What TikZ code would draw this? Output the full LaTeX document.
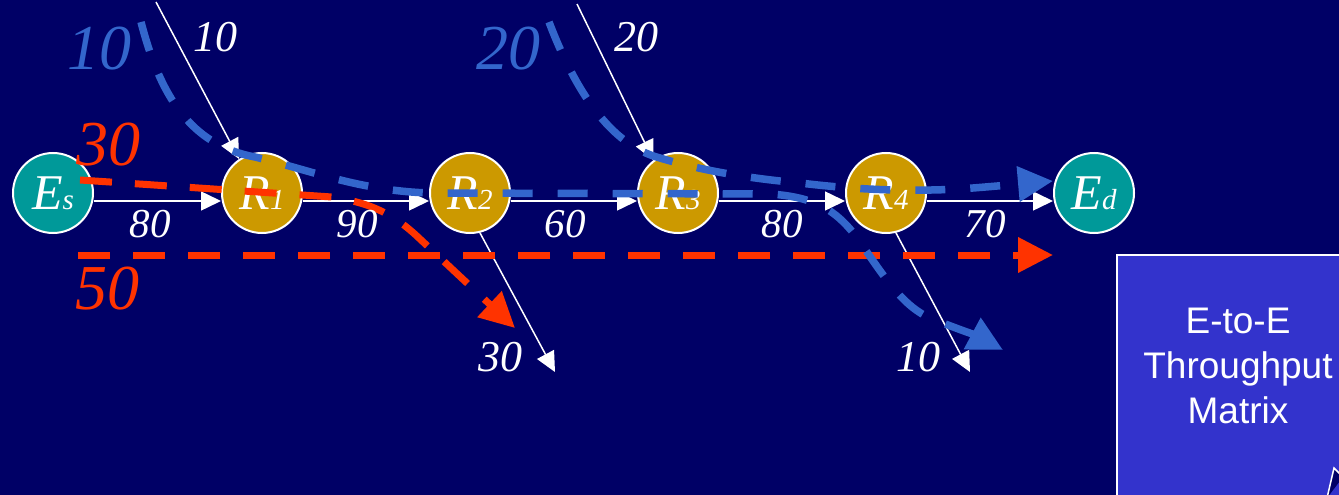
\documentclass[tikz,border=0pt]{standalone}
\usepackage{fontspec}
\setmainfont{Liberation Serif}
\newfontfamily\arialf{Liberation Sans}
\usetikzlibrary{arrows.meta}
\definecolor{bg}{HTML}{000066}
\definecolor{tealnode}{HTML}{009999}
\definecolor{goldnode}{HTML}{CC9900}
\definecolor{flowblue}{HTML}{3366CC}
\definecolor{flowred}{HTML}{FF3300}
\definecolor{boxblue}{HTML}{3333CC}
\tikzset{
  endnode/.style={circle, draw=white, line width=2pt, fill=tealnode, minimum size=80pt, inner sep=0pt, text=white, font=\fontsize{50}{50}\selectfont\itshape},
  routernode/.style={endnode, fill=goldnode},
  link/.style={draw=white, line width=1.5pt, -{Triangle[length=20pt,width=19pt]}},
  flowb/.style={draw=flowblue, line width=7.5pt, dash pattern=on 30pt off 25pt, -{Triangle[length=35pt,width=34pt]}},
  flowr/.style={draw=flowred, line width=7pt, dash pattern=on 32pt off 23pt, -{Triangle[length=35pt,width=34pt]}},
  edgelab/.style={text=white, font=\fontsize{41}{41}\selectfont\itshape, inner sep=0pt},
  inlab/.style={text=white, font=\fontsize{44}{44}\selectfont\itshape, inner sep=0pt},
  biglab/.style={font=\fontsize{64}{64}\selectfont\itshape, inner sep=0pt},
}
\newcommand{\subs}[1]{{\fontsize{29}{29}\selectfont #1}}
\begin{document}
\begin{tikzpicture}[x=1pt,y=-1pt]
\fill[bg] (0,0) rectangle (1339,495);
\useasboundingbox (0,0) rectangle (1339,495);

% nodes
\node[endnode] (Es) at (53,193) {E\subs{s}};
\node[routernode] (R1) at (262,193) {R\subs{1}};
\node[routernode] (R2) at (470,193) {R\subs{2}};
\node[routernode] (R3) at (678,193) {R\subs{3}};
\node[routernode] (R4) at (886,193) {R\subs{4}};
\node[endnode] (Ed) at (1094,193) {E\subs{d}};

% links
\draw[link] ([yshift=-8pt]Es.east) -- ([yshift=-8pt]R1.west);
\draw[link] ([yshift=-8pt]R1.east) -- ([yshift=-8pt]R2.west);
\draw[link] ([yshift=-8pt]R2.east) -- ([yshift=-8pt]R3.west);
\draw[link] ([yshift=-8pt]R3.east) -- ([yshift=-8pt]R4.west);
\draw[link] ([yshift=-8pt]R4.east) -- ([yshift=-8pt]Ed.west);

% in/out traffic
\coordinate (in1) at (156,2);
\coordinate (in2) at (577,4);
\coordinate (out1) at (555,372);
\coordinate (out2) at (970,372);
\draw[link] (in1) -- (R1.124);
\draw[link] (in2) -- (R3.127);
\draw[link] (R2.-76) -- (out1);
\draw[link] (R4.-76) -- (out2);

% flows
\coordinate (b1s) at (141,22);
\coordinate (b1e) at (1003,350);
\coordinate (b2s) at (549,22);
\coordinate (b2e) at (1053,181);
\coordinate (r1s) at (80,180);
\coordinate (r1e) at (515,328);
\coordinate (r2s) at (78,255);
\coordinate (r2e) at (1053,255);

\draw[flowr] (r2s) -- (r2e);
\draw[flowr] (r1s) -- (332,197) .. controls (372,203) and (395,215) .. (420,239) -- (r1e);
\draw[flowb] (b1s) .. controls (160,95) and (190,145) .. (255,157)
  .. controls (310,170) and (360,191) .. (430,193) -- (770,194)
  .. controls (815,197) and (835,210) .. (855,235)
  .. controls (880,270) and (900,305) .. (930,318)
  .. controls (955,328) and (975,335) .. (b1e);
\draw[flowb] (b2s) .. controls (575,90) and (610,145) .. (660,158)
  .. controls (700,170) and (745,178) .. (800,183)
  .. controls (850,189) and (900,192) .. (960,189)
  .. controls (1000,186) and (1030,183) .. (b2e);

% labels
\node[edgelab] (l1) at (150,224) {80};
\node[edgelab] (l2) at (357,224) {90};
\node[edgelab] (l3) at (565,224) {60};
\node[edgelab] (l4) at (782,224) {80};
\node[edgelab] (l5) at (985,224) {70};
\node[inlab] (li1) at (215,37) {10};
\node[inlab] (li2) at (636,37) {20};
\node[inlab] (lo1) at (500,357) {30};
\node[inlab] (lo2) at (918,357) {10};
\node[biglab, text=flowblue] (fb1) at (99,49) {10};
\node[biglab, text=flowblue] (fb2) at (508,49) {20};
\node[biglab, text=flowred] (fr1) at (108,145) {30};
\node[biglab, text=flowred] (fr2) at (107,289) {50};

% matrix box
\draw[draw=white, fill=boxblue, line width=2pt] (1117,255) rectangle (1350,510);
\node[text=white, align=center, inner sep=0pt, font=\arialf\fontsize{37}{45}\selectfont] (matrix) at (1238,366) {E-to-E\\Throughput\\Matrix};
\draw[white, line width=1.5pt, fill=bg] (1327,498) -- (1334,468) -- (1343,477);
\end{tikzpicture}
\end{document}
